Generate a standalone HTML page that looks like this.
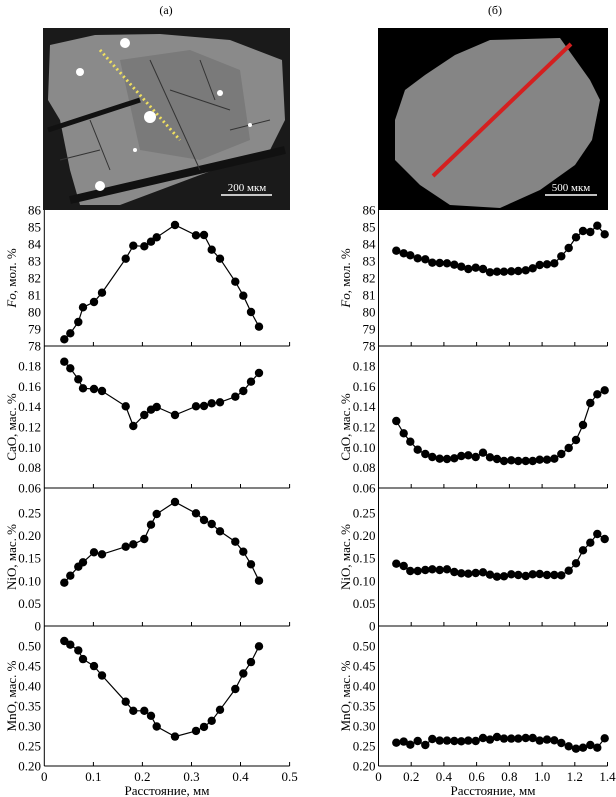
<!DOCTYPE html>
<html><head><meta charset="utf-8"><style>
html,body{margin:0;padding:0;background:#fff;}
svg{display:block;font-family:"Liberation Serif",serif;}
</style></head><body>
<svg width="616" height="797" viewBox="0 0 616 797" xmlns="http://www.w3.org/2000/svg">
<text x="166" y="14" font-size="12" text-anchor="middle">(а)</text>
<text x="495" y="14" font-size="12" text-anchor="middle">(б)</text>
<!-- left image -->
<rect x="43" y="28" width="247" height="182" fill="#1a1a1a"/>
<polygon points="50,45 95,35 160,34 230,40 282,60 285,120 270,150 200,175 120,205 80,205 70,170 60,120 48,100" fill="#8a8a8a"/>
<polygon points="120,60 190,50 240,70 250,140 200,160 140,150" fill="#7a7a7a"/>
<line x1="48" y1="130" x2="140" y2="100" stroke="#111" stroke-width="5"/>
<line x1="70" y1="200" x2="285" y2="150" stroke="#111" stroke-width="8"/>
<line x1="150" y1="60" x2="200" y2="170" stroke="#333" stroke-width="1"/>
<path d="M90,120 L110,170 M170,90 L230,110 M200,60 L215,100 M60,160 L100,150 M230,130 L270,120" stroke="#333" stroke-width="1" fill="none"/>
<line x1="100" y1="50" x2="180" y2="140" stroke="#f0e060" stroke-width="3" stroke-dasharray="2,3"/>
<circle cx="125" cy="43" r="5" fill="#fff"/><circle cx="150" cy="117" r="6" fill="#fff"/><circle cx="100" cy="186" r="5" fill="#fff"/><circle cx="80" cy="72" r="4" fill="#fff"/>
<circle cx="220" cy="93" r="3" fill="#fff"/><circle cx="250" cy="125" r="2" fill="#fff"/><circle cx="135" cy="150" r="2" fill="#fff"/>
<text x="247" y="191" font-size="11" fill="#fff" text-anchor="middle">200 мкм</text>
<line x1="221" y1="195" x2="272" y2="195" stroke="#fff" stroke-width="1.5"/>
<!-- right image -->
<rect x="378" y="28" width="230" height="182" fill="#000"/>
<polygon points="455,55 490,40 560,38 590,80 600,100 592,140 575,165 540,190 500,208 450,205 420,185 395,160 395,120 405,90 425,75" fill="#858585"/>
<line x1="433" y1="176" x2="571" y2="44" stroke="#d42020" stroke-width="4"/>
<text x="571" y="191" font-size="11" fill="#fff" text-anchor="middle">500 мкм</text>
<line x1="545" y1="195" x2="597" y2="195" stroke="#fff" stroke-width="1.5"/>

<g stroke="#000" stroke-width="1" fill="none">
<line x1="44.3" y1="210" x2="44.3" y2="766"/>
<line x1="44.3" y1="346" x2="289.6" y2="346"/>
<line x1="44.3" y1="488" x2="289.6" y2="488"/>
<line x1="44.3" y1="626" x2="289.6" y2="626"/>
<line x1="44.3" y1="766" x2="289.6" y2="766"/>
<path d="M93.4,346v-4M142.4,346v-4M191.5,346v-4M240.5,346v-4M289.6,346v-4
M93.4,488v-4M142.4,488v-4M191.5,488v-4M240.5,488v-4M289.6,488v-4
M93.4,626v-4M142.4,626v-4M191.5,626v-4M240.5,626v-4M289.6,626v-4
M93.4,766v-4M142.4,766v-4M191.5,766v-4M240.5,766v-4M289.6,766v-4"/>
<line x1="378.5" y1="210" x2="378.5" y2="766"/>
<line x1="378.5" y1="346" x2="607.5" y2="346"/>
<line x1="378.5" y1="488" x2="607.5" y2="488"/>
<line x1="378.5" y1="626" x2="607.5" y2="626"/>
<line x1="378.5" y1="766" x2="607.5" y2="766"/>
<path d="M411.2,346v-4M443.9,346v-4M476.6,346v-4M509.4,346v-4M542.1,346v-4M574.8,346v-4M607.5,346v-4
M411.2,488v-4M443.9,488v-4M476.6,488v-4M509.4,488v-4M542.1,488v-4M574.8,488v-4M607.5,488v-4
M411.2,626v-4M443.9,626v-4M476.6,626v-4M509.4,626v-4M542.1,626v-4M574.8,626v-4M607.5,626v-4
M411.2,766v-4M443.9,766v-4M476.6,766v-4M509.4,766v-4M542.1,766v-4M574.8,766v-4M607.5,766v-4"/>
</g>

<g font-size="13" text-anchor="end">
<g transform="translate(41,4.5)">
<text y="210">86</text><text y="227">85</text><text y="244">84</text><text y="261">83</text><text y="278">82</text><text y="295">81</text><text y="312">80</text><text y="329">79</text><text y="346">78</text>
<text y="366">0.18</text><text y="386.3">0.16</text><text y="406.7">0.14</text><text y="427">0.12</text><text y="447.3">0.10</text><text y="467.7">0.08</text><text y="488">0.06</text>
<text y="513">0.25</text><text y="535.6">0.20</text><text y="558.2">0.15</text><text y="580.8">0.10</text><text y="603.4">0.05</text><text y="626">0</text>
<text y="646">0.50</text><text y="666">0.45</text><text y="686">0.40</text><text y="706">0.35</text><text y="726">0.30</text><text y="746">0.25</text><text y="766">0.20</text>
</g>
<g transform="translate(375.5,4.5)">
<text y="210">86</text><text y="227">85</text><text y="244">84</text><text y="261">83</text><text y="278">82</text><text y="295">81</text><text y="312">80</text><text y="329">79</text><text y="346">78</text>
<text y="366">0.18</text><text y="386.3">0.16</text><text y="406.7">0.14</text><text y="427">0.12</text><text y="447.3">0.10</text><text y="467.7">0.08</text><text y="488">0.06</text>
<text y="513">0.25</text><text y="535.6">0.20</text><text y="558.2">0.15</text><text y="580.8">0.10</text><text y="603.4">0.05</text><text y="626">0</text>
<text y="646">0.50</text><text y="666">0.45</text><text y="686">0.40</text><text y="706">0.35</text><text y="726">0.30</text><text y="746">0.25</text><text y="766">0.20</text>
</g>
</g>
<g font-size="13" text-anchor="middle">
<text transform="translate(16,278) rotate(-90)"><tspan font-style="italic">Fo</tspan>, мол. %</text>
<text transform="translate(16,427) rotate(-90)">CaO, мас. %</text>
<text transform="translate(16,557) rotate(-90)">NiO, мас. %</text>
<text transform="translate(16,696) rotate(-90)">MnO, мас. %</text>
<text transform="translate(350,278) rotate(-90)"><tspan font-style="italic">Fo</tspan>, мол. %</text>
<text transform="translate(350,427) rotate(-90)">CaO, мас. %</text>
<text transform="translate(350,557) rotate(-90)">NiO, мас. %</text>
<text transform="translate(350,696) rotate(-90)">MnO, мас. %</text>
</g>
<g font-size="13" text-anchor="middle">
<text x="44.3" y="781">0</text><text x="93.4" y="781">0.1</text><text x="142.4" y="781">0.2</text><text x="191.5" y="781">0.3</text><text x="240.5" y="781">0.4</text><text x="289.6" y="781">0.5</text>
<text x="378.5" y="781">0</text><text x="411.2" y="781">0.2</text><text x="443.9" y="781">0.4</text><text x="476.6" y="781">0.6</text><text x="509.4" y="781">0.8</text><text x="542.1" y="781">1.0</text><text x="574.8" y="781">1.2</text><text x="607.5" y="781">1.4</text>
<text x="167" y="795">Расстояние, мм</text>
<text x="493" y="795">Расстояние, мм</text>
</g>

<g id="data" stroke="#000" stroke-width="1.2" fill="none">
<polyline points="64.3,339.3 70.3,333.3 78.3,322 83,307.3 94,302 102,292.7 125.7,258.7 133.3,245.7 144.3,246.3 151,241.7 156.7,237.3 175,225 196,235.3 204,235 211.7,249.7 220,258.7 235.3,281.7 243.3,295.7 251,312 259,326.7"/>
<polyline points="64.3,361.7 70.3,368.3 78.3,379.3 83,388.3 94,389 102,391 125.7,406.3 133.3,426 144.3,415 151,409.7 156.7,407 175,415 196,406.3 204,406 211.7,403.3 220,402.3 235.3,396.7 243.3,391 251,381.7 259,373"/>
<polyline points="64.3,582.7 70.3,575.7 78.3,566.7 83,562.3 94,552.3 102,554.3 125.7,546.7 133.3,544.3 144.3,539 151,524.7 156.7,514 175,502 196,513.3 204,520 211.7,524 220,531.3 235.3,541.7 243.3,551.7 251,564.3 259,580.7"/>
<polyline points="64.3,641 70.3,644.7 78.3,650.4 83,659.1 94,666.1 102,675.5 125.7,701.7 133.3,710.8 144.3,710.8 151,715.8 156.7,726.5 175,736.6 196,730.9 204,726.9 211.7,720.8 220,709.8 235.3,689 243.3,673.5 251,662.1 259,646.3"/>
<polyline points="396.3,250.7 403.7,253.3 410.3,255.3 417.7,258.3 425.3,259.3 432.3,262.7 439.7,263 447,263.3 454.3,264.7 461.3,266.7 468.3,269 475.7,267.7 483,269 490,272.3 497,271.7 504,271.7 511.3,271.3 518.3,271 525.7,270.3 532.7,268.3 539.7,265 547,264.3 554.3,263.3 561.3,256.3 568.7,248 576,237.3 583,231 590.3,232 597.3,225.7 604.7,234.3"/>
<polyline points="396.3,421 403.7,433.3 410.3,441.7 417.7,449.7 425.3,454 432.3,457 439.7,458.7 447,459 454.3,458.3 461.3,456 468.3,455.3 475.7,457 483,452.7 490,457.3 497,459 504,461 511.3,460.3 518.3,461 525.7,461 532.7,461 539.7,459.7 547,459.7 554.3,458.7 561.3,454 568.7,448 576,440 583,425 590.3,403 597.3,394.3 604.7,390.3"/>
<polyline points="396.3,563.7 403.7,566 410.3,571 417.7,571 425.3,570 432.3,569.3 439.7,570 447,569.3 454.3,572 461.3,573.3 468.3,573.7 475.7,573 483,572.3 490,574.7 497,576.7 504,576.3 511.3,574.3 518.3,575 525.7,576 532.7,574.3 539.7,574 547,575 554.3,575 561.3,575.3 568.7,570.7 576,563.3 583,550.3 590.3,542.7 597.3,534 604.7,539"/>
<polyline points="396.3,742.7 403.7,741.6 410.3,744.7 417.7,741 425.3,745 432.3,739 439.7,740.6 447,740.6 454.3,741 461.3,741.3 468.3,740.6 475.7,741 483,738 490,739.6 497,737 504,738.6 511.3,738.6 518.3,738.6 525.7,738 532.7,738 539.7,740.6 547,739.6 554.3,740.3 561.3,743 568.7,746.3 576,748.7 583,747.7 590.3,745 597.3,747.7 604.7,738.3"/>
</g>
<g id="dots" fill="#000"></g>
</svg>
<script>
(function(){
var g=document.getElementById('dots');
var pls=document.querySelectorAll('#data polyline');
var ns='http://www.w3.org/2000/svg';
for(var i=0;i<pls.length;i++){
 var pts=pls[i].getAttribute('points').trim().split(/\s+/);
 for(var j=0;j<pts.length;j++){
  var p=pts[j].split(',');
  var c=document.createElementNS(ns,'circle');
  c.setAttribute('cx',p[0]);c.setAttribute('cy',p[1]);c.setAttribute('r','4.2');
  g.appendChild(c);
 }
}
})();
</script>
</body></html>
